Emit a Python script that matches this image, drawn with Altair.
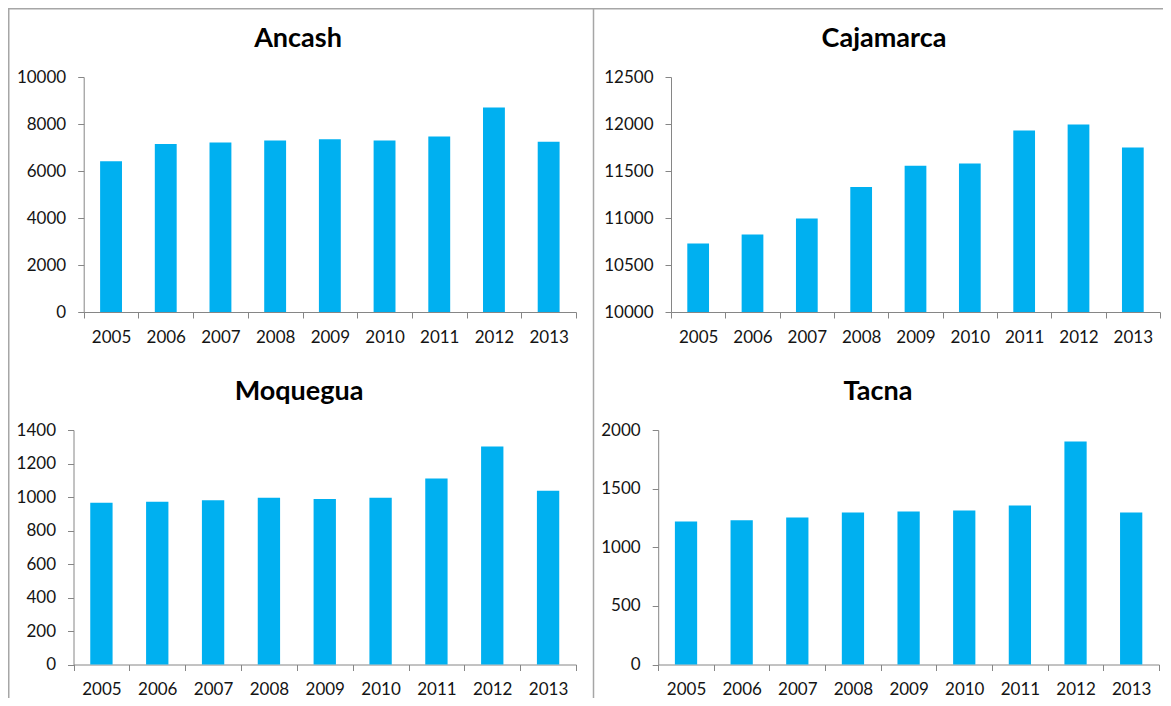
import altair as alt
import pandas as pd

# ---- data ----
years = ["2005", "2006", "2007", "2008", "2009", "2010", "2011", "2012", "2013"]

ancash = [6420, 7150, 7210, 7300, 7350, 7300, 7470, 8700, 7250]
cajamarca = [10730, 10825, 10995, 11330, 11555, 11580, 11930, 11995, 11750]
moquegua = [966, 972, 980, 996, 988, 996, 1111, 1302, 1038]
tacna = [1220, 1231, 1254, 1296, 1305, 1313, 1356, 1901, 1296]

ancash_ticks = [0, 2000, 4000, 6000, 8000, 10000]
cajamarca_ticks = [10000, 10500, 11000, 11500, 12000, 12500]
moquegua_ticks = [0, 200, 400, 600, 800, 1000, 1200, 1400]
tacna_ticks = [0, 500, 1000, 1500, 2000]

names = ["Ancash", "Cajamarca", "Moquegua", "Tacna"]

# ---- layout (pixels inside the plot area) ----
W, H = 1155, 690
layout = {
    "Ancash":    dict(x0=75.7, x1=568.0, ytop=69.0, ybot=304.0, tx=290, ty=38.7),
    "Cajamarca": dict(x0=663.0, x1=1152.0, ytop=69.0, ybot=304.0, tx=876, ty=38.7),
    "Moquegua":  dict(x0=65.5, x1=568.0, ytop=422.0, ybot=656.5, tx=291, ty=392),
    "Tacna":     dict(x0=650.2, x1=1151.0, ytop=422.0, ybot=656.5, tx=870, ty=392),
}
series = {"Ancash": ancash, "Cajamarca": cajamarca, "Moquegua": moquegua, "Tacna": tacna}
ticks = {"Ancash": ancash_ticks, "Cajamarca": cajamarca_ticks,
         "Moquegua": moquegua_ticks, "Tacna": tacna_ticks}

BAR = "#00B0F0"
AXIS = "#868686"
LABEL = "#141414"
FONT = "Lato"

layers = []
for name in names:
    L = layout[name]
    df = pd.DataFrame({"year": years, "value": series[name]})
    tv = ticks[name]
    lo, hi = tv[0], tv[-1]
    bars = alt.Chart(df).mark_bar(color=BAR, width=alt.RelativeBandSize(0.4)).encode(
        x=alt.X(
            "year:N", sort=years,
            scale=alt.Scale(range=[L["x0"], L["x1"]], paddingInner=0, paddingOuter=0),
            axis=alt.Axis(title=None, orient="bottom", offset=L["ybot"] - H, labelAngle=0,
                          tickBand="extent", labelPadding=11, grid=False),
        ),
        y=alt.Y(
            "value:Q",
            scale=alt.Scale(domain=[lo, hi], range=[L["ybot"], L["ytop"]], nice=False, zero=False),
            axis=alt.Axis(title=None, orient="left", offset=-L["x0"], values=tv, format="d",
                          labelPadding=12, grid=False),
        ),
        y2=alt.datum(lo),
    )
    title = alt.Chart(pd.DataFrame({"t": [name]})).mark_text(
        font=FONT, fontWeight="bold", fontSize=27, align="center",
        baseline="alphabetic", color="#000000",
    ).encode(text="t:N", x=alt.value(L["tx"]), y=alt.value(L["ty"]))
    layers += [bars, title]

one = pd.DataFrame({"k": [0]})
border = dict(color="#a6a6a6", strokeWidth=1.5)
top_line = alt.Chart(one).mark_rule(**border).encode(
    x=alt.value(0), x2=alt.value(W), y=alt.value(0.75))
left_line = alt.Chart(one).mark_rule(**border).encode(
    x=alt.value(0.75), y=alt.value(0), y2=alt.value(H))
mid_line = alt.Chart(one).mark_rule(**border).encode(
    x=alt.value(585.5), y=alt.value(0), y2=alt.value(H))
layers += [top_line, left_line, mid_line]

chart = (
    alt.layer(*layers)
    .resolve_scale(x="independent", y="independent")
    .resolve_axis(x="independent", y="independent")
    .properties(width=W, height=H, padding=0, background="white",
                autosize=alt.AutoSizeParams(type="none"))
    .configure_view(stroke=None)
    .configure_axis(
        domainColor=AXIS, tickColor=AXIS, domainWidth=1, tickWidth=1, tickSize=6,
        labelFont=FONT, labelFontSize=17, labelColor=LABEL,
    )
)

chart.save("out.html", embed_options={"renderer": "svg", "actions": False})
